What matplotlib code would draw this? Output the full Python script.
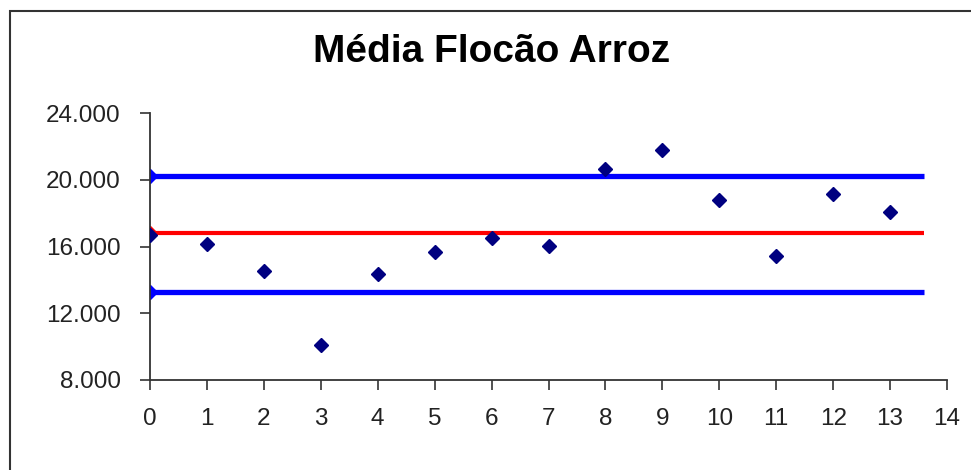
import matplotlib.pyplot as plt
from matplotlib.patches import Rectangle
from matplotlib.ticker import FuncFormatter, MultipleLocator

plt.rcParams["font.family"] = ["Liberation Sans", "DejaVu Sans"]

# sample index and mean value per sample
amostras = [0, 1, 2, 3, 4, 5, 6, 7, 8, 9, 10, 11, 12, 13]
media = [16700, 16130, 14550, 10100, 14330, 15650, 16490, 16030,
         20620, 21780, 18790, 15430, 19130, 18050]

# control limits, drawn from x=0 to x=13.6
limite_x = [0, 13.6]
lsc = 20220
lc = 16830
lic = 13250

fig = plt.figure(figsize=(9.71, 4.70), dpi=100)
ax = fig.add_axes([150 / 971, 90 / 470, 797 / 971, 267 / 470])

ax.plot(limite_x, [lsc, lsc], color="#0000ff", lw=3.8, marker="D",
        markersize=7.5, markevery=[0], solid_capstyle="butt")
ax.plot(limite_x, [lc, lc], color="#ff0000", lw=3, marker="D",
        markersize=7.5, markevery=[0], solid_capstyle="butt")
ax.plot(limite_x, [lic, lic], color="#0000ff", lw=3.8, marker="D",
        markersize=7.5, markevery=[0], solid_capstyle="butt")
ax.plot(amostras, media, linestyle="none", marker="D", markersize=7.5,
        color="#000080", zorder=5)

ax.set_xlim(0, 14)
ax.set_ylim(8000, 24000)
ax.xaxis.set_major_locator(MultipleLocator(1))
ax.yaxis.set_major_locator(MultipleLocator(4000))
ax.yaxis.set_major_formatter(
    FuncFormatter(lambda v, p: f"{int(v):,}".replace(",", ".")))

for s in ["top", "right"]:
    ax.spines[s].set_visible(False)
for s in ["left", "bottom"]:
    ax.spines[s].set_color("#333333")
    ax.spines[s].set_linewidth(1.3)
ax.tick_params(axis="both", direction="out", length=7, width=1.2,
               color="#333333", labelcolor="#222222", labelsize=17.5)
ax.tick_params(axis="y", pad=14)
ax.tick_params(axis="x", pad=13)
for lbl in ax.get_yticklabels() + ax.get_xticklabels():
    lbl.set_clip_on(False)

fig.text(492 / 971, 1 - 52 / 470, "Média Flocão Arroz", ha="center",
         va="center", fontsize=28, fontweight="bold", color="#000000")

# chart area border (right and bottom edges fall outside the image)
fig.patches.append(Rectangle((10 / 971, -0.1), 1.1, 1 - 11 / 470 + 0.1,
                             transform=fig.transFigure, fill=False,
                             edgecolor="#333333", lw=1.5))

fig.savefig("out.png", dpi=100)
